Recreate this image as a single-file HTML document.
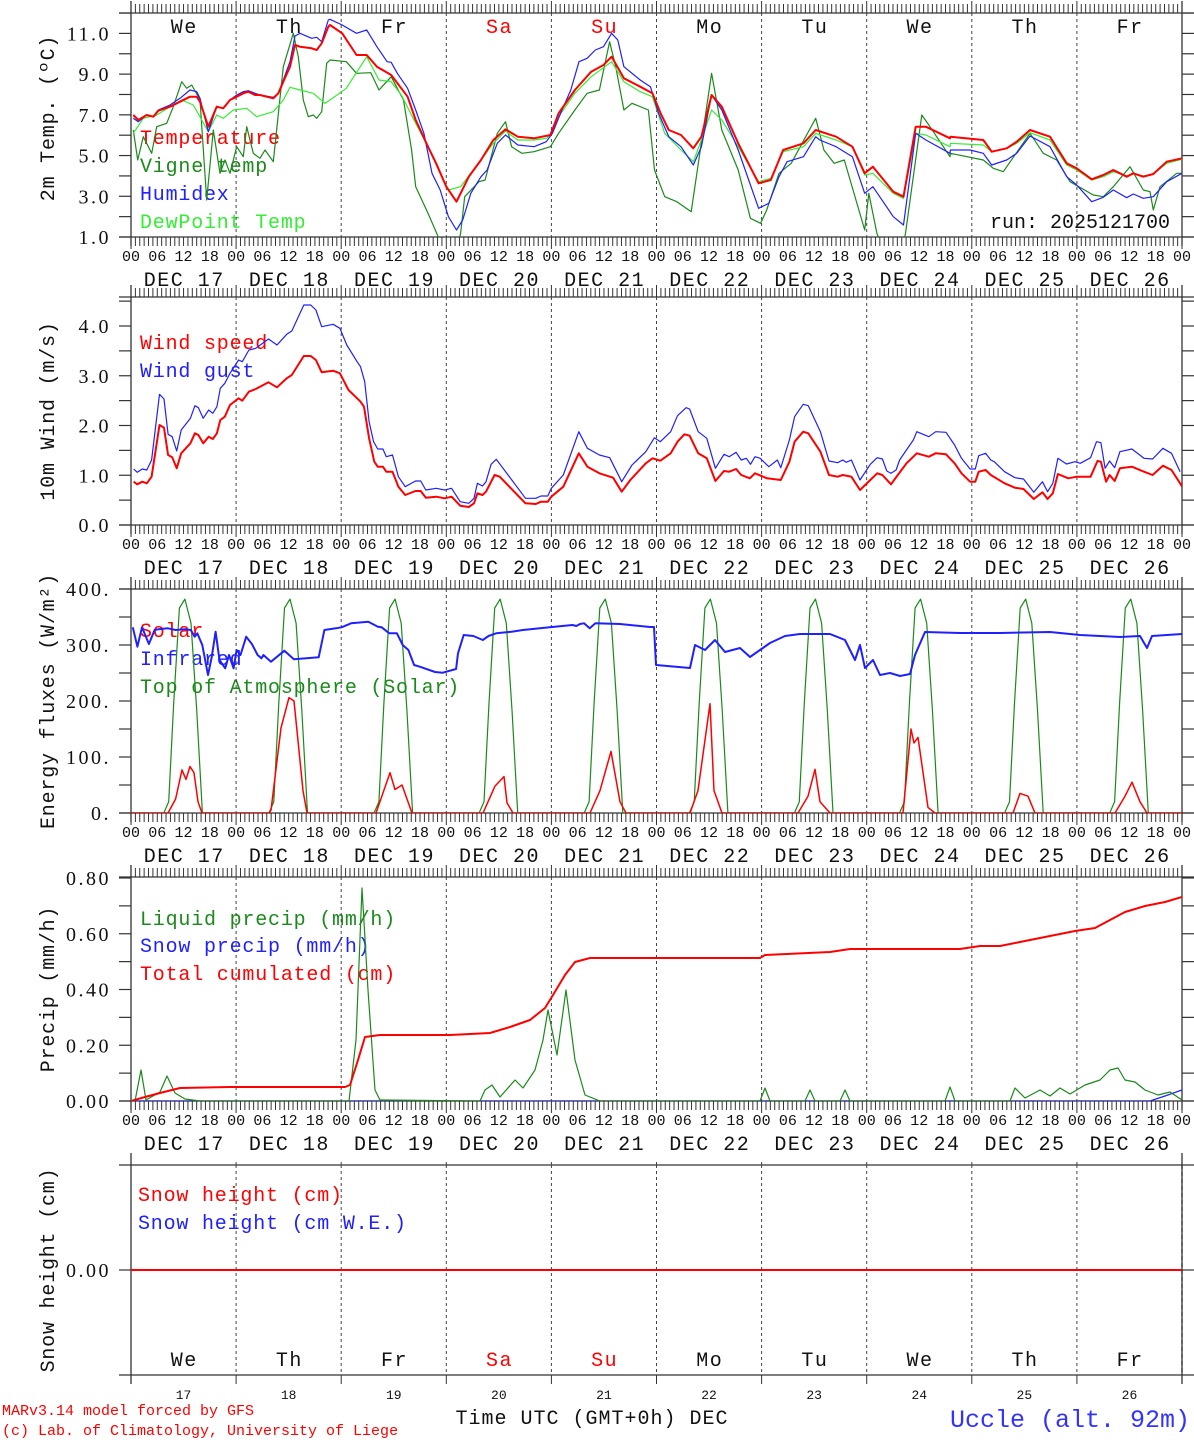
<!DOCTYPE html>
<html><head><meta charset="utf-8"><style>
html,body{margin:0;padding:0;background:#fff;}
svg{display:block;}
text{font-family:"Liberation Mono","DejaVu Sans Mono",monospace;letter-spacing:1.5px;}
text.t{letter-spacing:0px;}
text.l{letter-spacing:0.8px;}
text.y{font-family:"Liberation Serif","DejaVu Serif",serif;letter-spacing:2.5px;}
</style></head><body>
<svg id="s" width="1194" height="1440" xmlns="http://www.w3.org/2000/svg">
<defs>
<clipPath id="c0"><rect x="131" y="13" width="1051" height="224"/></clipPath>
<clipPath id="c1"><rect x="131" y="297" width="1051" height="228"/></clipPath>
<clipPath id="c2"><rect x="131" y="589" width="1051" height="224"/></clipPath>
<clipPath id="c3"><rect x="131" y="877" width="1051" height="224"/></clipPath>
<clipPath id="c4"><rect x="131" y="1165" width="1051" height="210"/></clipPath>
</defs>
<rect width="1194" height="1440" fill="#fff"/>
<g font-size="20">
<text x="140" y="144" fill="#ff0000" class="l">Temperature</text>
<text x="140" y="172" fill="#1a8a1a" class="l">Vigne temp</text>
<text x="140" y="200" fill="#2020ff" class="l">Humidex</text>
<text x="140" y="228" fill="#33ee33" class="l">DewPoint Temp</text>
<text x="1170" y="228" fill="#111" text-anchor="end" class="t">run: 2025121700</text>
<text x="140" y="349" fill="#ff0000" class="l">Wind speed</text>
<text x="140" y="377" fill="#2020ff" class="l">Wind gust</text>
<text x="140" y="637" fill="#ff0000" class="l">Solar</text>
<text x="140" y="665" fill="#2020ff" class="l">Infrared</text>
<text x="140" y="693" fill="#1a8a1a" class="l">Top of Atmosphere (Solar)</text>
<text x="140" y="925" fill="#1a8a1a" class="l">Liquid precip (mm/h)</text>
<text x="140" y="952" fill="#2020ff" class="l">Snow precip (mm/h)</text>
<text x="140" y="980" fill="#ff0000" class="l">Total cumulated (cm)</text>
<text x="138" y="1201" fill="#ff0000" class="l">Snow height (cm)</text>
<text x="138" y="1229" fill="#2020ff" class="l">Snow height (cm W.E.)</text>
<text transform="translate(54,118) rotate(-90)" text-anchor="middle" fill="#111" class="l">2m Temp. (ºC)</text>
<text transform="translate(54,411) rotate(-90)" text-anchor="middle" fill="#111" class="l">10m Wind (m/s)</text>
<text transform="translate(54,701) rotate(-90)" text-anchor="middle" fill="#111" class="l">Energy fluxes (W/m²)</text>
<text transform="translate(54,989) rotate(-90)" text-anchor="middle" fill="#111" class="l">Precip (mm/h)</text>
<text transform="translate(54,1270) rotate(-90)" text-anchor="middle" fill="#111" class="l">Snow height (cm)</text>
<text x="592" y="1424" text-anchor="middle" fill="#111" style="letter-spacing:1px">Time UTC (GMT+0h) DEC</text>
</g>
<text x="2" y="1415" font-size="15" fill="#ff0000" class="t">MARv3.14 model forced by GFS</text>
<text x="2" y="1435" font-size="15" fill="#ff0000" class="t">(c) Lab. of Climatology, University of Liege</text>
<text x="1190" y="1427" font-size="25" fill="#3333ff" text-anchor="end" class="t">Uccle (alt. 92m)</text>
</svg>
<script>
const NS="http://www.w3.org/2000/svg";const svg=document.getElementById('s');
function el(t,a,txt){const e=document.createElementNS(NS,t);for(const k in a)e.setAttribute(k,a[k]);if(txt!=null)e.textContent=txt;svg.appendChild(e);return e;}
function X(h){return 131+h*1051/240;}
function seg(ox,oy,sx,sy,arr){const r=[];for(let i=0;i<arr.length;i+=2)r.push([ox+arr[i]/sx,oy+arr[i+1]/sy]);return r;}
function pix(arr){return seg(0,0,1,1,arr);}
function pl(pts,c,w,clip){pts=pts.slice().sort((a,b)=>a[0]-b[0]);el('polyline',{points:pts.map(p=>p[0].toFixed(1)+','+p[1].toFixed(1)).join(' '),fill:'none',stroke:c,'stroke-width':w,'clip-path':'url(#c'+clip+')','stroke-linejoin':'round'});}
function ln(x1,y1,x2,y2,c,w,d){const a={x1,y1,x2,y2,stroke:c||'#222','stroke-width':w||1};if(d)a['stroke-dasharray']=d;el('line',a);}
const P=[[13,237],[297,525],[589,813],[877,1101],[1165,1375]];
const days=['We','Th','Fr','Sa','Su','Mo','Tu','We','Th','Fr'];
P.forEach((p,i)=>{const [t,b]=p;
 ln(119,t,1194,t,'#333',1.3); ln(119,b,1194,b,'#333',1.3);
 ln(131,t-12,131,b+9,'#333',1.3); ln(1182,t-12,1182,b+9,'#333',1.3);
 for(let d=1;d<10;d++)ln(X(24*d),t,X(24*d),b,'#444',1,'3,3');
 if(i==4){for(let d=0;d<=10;d++)ln(X(24*d),b,X(24*d),b+9,'#333',1);
  for(let d=1;d<10;d++)ln(X(24*d),b-210,X(24*d),t-5,'#444',1,'3,3');
  ln(1182,t,1182,b,'#333',1.3,'4,3');
 } else {
  for(let h=0;h<=240;h++){const big=h%24==0;ln(X(h),t-(big?12:9),X(h),t,'#333',1);ln(X(h),b,X(h),b+(big?12:9),'#333',1);}
  for(let d=0;d<10;d++){for(let k=0;k<4;k++)el('text',{x:X(24*d+6*k),y:b+24,'font-size':15,'text-anchor':'middle',fill:'#111','class':'t'},['00','06','12','18'][k]);
   el('text',{x:X(24*d+12)+0.7,y:b+49,'font-size':20,'text-anchor':'middle',fill:'#111'},'DEC '+(17+d));}
  el('text',{x:1182,y:b+24,'font-size':15,'text-anchor':'middle',fill:'#111','class':'t'},'00');
 }
});
days.forEach((d,i)=>{const c=(i==3||i==4)?'#ff0000':'#111';
 el('text',{x:X(24*i+12)+0.7,y:33,'font-size':20,'text-anchor':'middle',fill:c},d);
 el('text',{x:X(24*i+12)+0.7,y:1366,'font-size':20,'text-anchor':'middle',fill:c},d);
 el('text',{x:X(24*i+12),y:1399,'font-size':13,'text-anchor':'middle',fill:'#111','class':'t'},String(17+i));});
function yt(vals,f,lab){vals.forEach(v=>{const y=f(v);ln(119,y,131,y,'#333',1.2);ln(1182,y,1194,y,'#333',1.2);});
 lab.forEach(([v,s])=>el('text',{x:111,y:f(v)+7,'font-size':20,'text-anchor':'end',fill:'#111','class':'y'},s));}
let a=[];for(let v=1;v<=12;v++)a.push(v);
yt(a,v=>237-(v-1)*20.36,[[1,'1.0'],[3,'3.0'],[5,'5.0'],[7,'7.0'],[9,'9.0'],[11,'11.0']]);
a=[];for(let v=0;v<=4.5;v+=0.5)a.push(v);
yt(a,v=>525-v*49.75,[[0,'0.0'],[1,'1.0'],[2,'2.0'],[3,'3.0'],[4,'4.0']]);
a=[];for(let v=0;v<=400;v+=50)a.push(v);
yt(a,v=>813-v*0.56,[[0,'0.'],[100,'100.'],[200,'200.'],[300,'300.'],[400,'400.']]);
a=[];for(let v=0;v<=0.8001;v+=0.1)a.push(v);
yt(a,v=>1101-v*278.75,[[0,'0.00'],[0.2,'0.20'],[0.4,'0.40'],[0.6,'0.60'],[0.8,'0.80']]);
yt([0],v=>1270,[[0,'0.00']]);
const z1=(arr)=>seg(0,0,3,3,arr), z5=(arr)=>seg(330,0,2.45,3,arr), z3=(arr)=>seg(950,0,3,3,arr);
const DG='#1a8a1a',LG='#33ee33',BL='#2020ff',RD='#ff0000';
pl(z1([400,390,413,480,430,410,455,460,470,380,500,370,520,320,545,245,560,265,575,255,600,300,620,600,640,390,660,520,675,480,690,520,710,440,730,470,740,380,760,460,780,475,795,450,820,485,850,200,880,100,895,170,910,300,925,350,940,345,950,355,965,335,980,190]).concat(z5([0,180,40,185,65,220,100,218,120,270,150,230,180,300,200,450,210,560,240,640,265,710,290,760,310,760,320,700,330,590,365,545,380,540,410,400,430,365,445,440,470,460,500,455,540,440,560,400,600,330,630,280,660,270,685,125,700,200,720,330,740,310,780,330,795,510,820,590,850,605,885,635,935,220,960,390,1000,510,1030,655,1055,670,1070,630,1100,520,1130,490,1190,355,1210,450,1235,490,1260,480,1310,690,1320,580,1340,700,1360,760,1400,760,1410,700,1450,345,1470,380,1520,460])).concat(z3([0,470,100,480,130,505,160,515,240,400,280,460,320,480,360,545,430,585,460,590,490,560,540,500,580,570,600,575,610,630,630,560,680,520,696,520])),DG,1.2,0);
pl(z1([400,400,430,355,470,345,510,320,545,300,580,315,625,395,650,345,670,355,700,330,740,325,770,350,820,335,850,300,870,262,900,270,940,280,975,310]).concat(z5([0,300,40,265,90,170,120,240,150,245,175,285,210,370,240,440,270,520,290,570,320,560,345,520,370,480,400,430,430,393,460,420,500,420,530,415,545,400,560,350,600,280,640,230,690,185,720,245,760,275,790,290,820,400,860,450,890,485,910,420,935,330,960,360,1000,440,1050,545,1080,535,1110,455,1160,440,1190,400,1240,420,1280,440,1310,525,1330,520,1380,580,1405,595,1435,400,1460,405,1520,430])).concat(z3([0,440,100,435,125,455,170,445,200,430,240,398,300,420,350,495,380,510,425,540,460,530,490,515,530,528,550,522,580,528,610,522,650,490,696,478])),LG,1.2,0);
pl(z1([400,355,415,365,440,345,460,350,475,330,510,315,540,295,570,270,590,275,600,295,625,395,650,320,670,325,690,300,710,285,730,275,745,272,765,280,780,285,820,292,835,280,850,240,870,185,885,108,900,100,935,115,950,112,965,125,985,60]).concat(z5([0,58,30,75,65,100,90,90,115,140,140,185,150,187,165,220,190,265,210,330,230,400,250,520,270,570,290,650,310,690,325,660,345,580,370,530,385,510,410,430,430,405,460,435,500,440,530,425,545,400,565,340,590,270,610,185,630,175,650,150,670,140,690,100,705,120,720,200,760,240,785,260,805,340,830,410,860,440,890,495,910,440,935,285,960,330,1000,450,1050,625,1075,610,1100,530,1120,485,1160,470,1190,410,1200,420,1240,440,1280,470,1310,580,1330,560,1380,650,1405,675,1435,400,1460,420,1520,450])).concat(z3([0,460,60,450,100,460,125,495,170,480,200,460,240,408,300,440,350,530,380,555,425,605,460,592,490,570,530,593,550,582,580,595,610,590,650,545,696,520])),BL,1.2,0);
pl(z1([400,345,415,360,440,345,460,350,475,332,510,320,540,305,570,290,590,290,600,305,625,380,650,320,670,325,690,300,710,290,730,280,745,275,765,285,780,285,820,295,835,280,850,245,870,200,885,135,900,140,935,145,950,150,965,130,985,80]).concat(z5([0,75,30,100,65,165,90,165,115,200,150,225,190,290,210,360,240,440,260,490,285,560,310,605,340,530,370,480,400,420,430,388,460,410,500,415,540,405,560,340,600,270,640,215,670,195,690,170,720,235,760,260,790,280,810,340,830,390,860,405,890,445,910,410,935,285,960,320,1000,430,1050,550,1080,540,1110,450,1160,430,1190,390,1240,410,1280,440,1310,520,1330,500,1380,575,1405,590,1435,380,1460,380,1520,410])).concat(z3([0,415,100,420,125,455,170,445,200,425,240,390,300,410,350,490,380,505,425,538,460,525,490,510,530,530,550,520,580,530,610,522,650,485,696,475])),RD,2,0);
const z7=(arr)=>seg(120,295,2.91,3,arr), z8=(arr)=>seg(650,295,2.905,3,arr);
pl(z7([40,522,50,532,65,522,78,525,92,495,115,298,128,312,140,418,152,425,165,468,178,405,205,370,218,332,228,338,242,370,258,345,270,355,282,335,292,280,305,265,320,235,345,195,356,200,375,165,395,160,432,132,457,150,485,118,500,108,535,30,555,30,570,45,587,95,620,88,640,100,660,150,690,200,700,215,712,260,725,380,738,440,750,462,765,462,775,485,793,480,810,545,830,575,860,558,875,558,890,585,920,580,945,585,965,580,990,620,1015,625,1030,610,1040,565,1055,573,1065,560,1080,508,1095,493,1180,610,1210,610,1225,603,1245,603,1255,580,1290,540,1335,410,1360,460,1395,480,1425,488,1460,560,1490,510,1530,470,1555,428]).concat(z8([30,440,60,410,80,362,105,338,115,342,140,410,165,430,190,520,215,478,230,485,250,472,265,495,280,490,292,508,305,485,320,490,345,515,370,495,380,518,405,435,420,365,445,328,460,332,495,410,520,498,545,503,560,495,570,502,585,495,610,555,640,508,660,488,675,492,688,528,700,535,715,525,725,495,765,435,775,410,810,425,830,410,860,412,885,450,905,490,930,522,945,522,955,482,975,475,990,495,1000,500,1030,530,1060,548,1085,552,1115,592,1140,560,1155,590,1170,565,1185,490,1210,507,1235,500,1250,505,1280,488,1297,440,1310,443,1322,520,1335,498,1350,518,1365,470,1400,462,1435,490,1460,492,1490,460,1515,475,1540,530])),BL,1.2,1);
pl(z7([40,560,50,568,65,560,78,565,92,545,115,390,128,398,140,480,152,487,165,520,178,475,205,445,218,415,228,420,242,445,258,425,270,432,282,415,292,375,305,365,320,330,345,310,356,317,375,290,395,282,432,262,457,277,485,250,500,240,535,183,555,183,570,195,587,232,620,227,640,235,665,285,690,310,700,320,710,335,725,430,740,500,750,515,765,515,775,530,793,530,810,575,830,600,860,588,875,588,890,608,920,605,945,610,965,605,990,632,1015,636,1030,625,1040,595,1055,600,1065,590,1090,540,1105,545,1180,625,1210,627,1225,620,1245,620,1255,605,1290,575,1335,475,1360,515,1395,535,1435,548,1460,590,1485,555,1530,505,1550,490]).concat(z8([30,497,60,475,80,440,100,418,115,422,140,475,165,490,190,558,215,528,230,530,250,522,265,540,290,550,305,535,340,550,380,555,405,500,420,440,445,410,460,415,495,470,520,540,545,545,560,540,585,545,610,585,640,555,660,535,675,540,700,568,720,540,745,505,775,475,810,485,830,475,860,478,885,505,905,535,930,560,945,560,955,530,975,525,990,540,1030,565,1060,578,1085,582,1115,612,1140,592,1155,612,1170,595,1185,537,1215,550,1240,545,1280,545,1300,498,1310,500,1325,560,1335,540,1350,558,1365,520,1400,515,1435,530,1460,540,1490,512,1515,525,1540,565,1546,575])),RD,2,1);
const E=v=>813-v*0.56;
let toa=[[131,E(0)]];
for(let d=0;d<10;d++){[[7.5,0],[8.6,20],[9.75,196],[11.05,366],[12.3,382],[13.7,339],[15,184],[16.3,0]].forEach(([h,v])=>toa.push([X(24*d+h),E(v)]));}
toa.push([1182,E(0)]);
pl(toa,DG,1.2,2);
const z6=(arr)=>seg(0,570,2.62,3,arr);
pl(z6([348,172,360,230,372,172,390,222,405,180,415,178,440,175,460,180,485,178,500,180,510,200,517,190,530,225,545,315,555,260,565,185,575,270,590,295,600,255,612,295,620,240,630,255,645,200,660,222,675,255,685,265,690,255,710,275,745,242,770,268,835,262,850,180,880,175,895,172,920,160,965,155,990,170,1000,172,1020,190,1040,190,1055,225,1070,240,1085,285,1100,290,1140,306,1160,308,1195,297,1200,250,1215,195,1240,198,1265,210,1280,198,1300,190,1340,185,1370,180,1440,172,1500,165,1510,168,1530,160,1545,175,1560,160]).concat(pix([580,624,620,624,650,627,654,627,656,665,690,668,695,645,705,650,715,640,725,652,740,648,750,657,760,650,770,643,785,636,800,634,830,634,845,640,855,660,860,645,865,668,873,660,880,675,890,673,900,676,910,674,915,655,925,632,960,633,1000,633,1050,632,1080,635,1100,636,1120,637,1140,636,1147,648,1152,636,1182,634])),BL,2,2);
let sol=[[131,E(0)]];
[[168,0],[175.6,25],[182,77],[186,60],[190,83],[194,72],[198,20],[202,0],[269,0],[271,5],[281,152],[289,206],[294,200],[303,40],[307,0],[376,0],[390,72],[395,42],[402,50],[412,0],[483,0],[495,48],[504,65],[507,18],[513,0],[590,0],[600,40],[611,110],[620,20],[626,0],[690,0],[698,40],[710,195],[714,40],[722,0],[798,0],[808,30],[815,78],[820,20],[830,0],[903,0],[911,150],[914,125],[918,135],[928,10],[935,0],[1013,0],[1020,35],[1028,30],[1035,0],[1115,0],[1125,30],[1132,55],[1140,20],[1147,0],[1182,0]].forEach(([x,v])=>sol.push([x,E(v)]));
pl(sol,RD,1.5,2);
pl(pix([131,1101,350,1101,1150,1101,1165,1096,1182,1090]),BL,1.2,3);
pl(pix([131,1101,135,1101,141,1070,146,1100,160,1092,167,1076,175,1093,185,1099,200,1101,349,1101,356,1040,362,888,368,990,375,1090,380,1100,480,1101,485,1090,492,1085,500,1097,515,1080,523,1088,535,1070,543,1040,548,1010,557,1055,566,990,575,1060,585,1095,600,1101,760,1101,765,1088,770,1101,805,1101,810,1090,815,1101,840,1101,845,1090,850,1101,945,1101,950,1087,955,1101,1010,1101,1015,1088,1025,1098,1040,1090,1050,1096,1060,1088,1070,1094,1085,1085,1100,1080,1110,1070,1118,1068,1125,1080,1135,1082,1145,1090,1158,1095,1170,1092,1182,1100]),DG,1.2,3);
pl(pix([131,1101,145,1097,160,1093,180,1088,230,1087,345,1087,350,1085,358,1060,365,1037,380,1035,450,1035,490,1033,510,1027,530,1020,545,1008,553,995,565,975,575,962,590,958,760,958,765,955,830,952,850,949,960,949,980,946,1000,946,1020,942,1045,937,1075,931,1095,928,1110,920,1125,912,1145,906,1165,902,1182,897]),RD,2,3);
ln(131,1270,1182,1270,RD,2);
</script>
</body></html>
